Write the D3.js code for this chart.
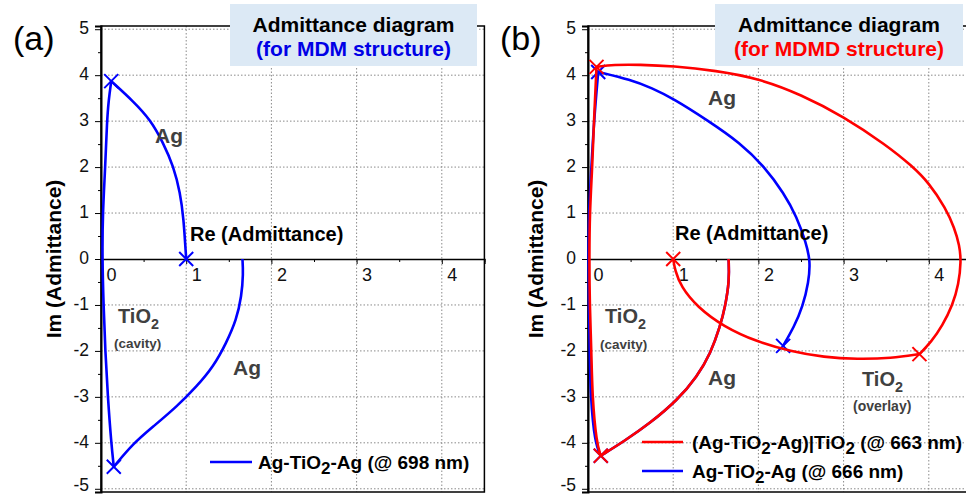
<!DOCTYPE html>
<html>
<head>
<meta charset="utf-8">
<script src="https://cdn.jsdelivr.net/npm/d3@7"></script>
<style>
  body { margin: 0; background: #fff; }
  text { font-family: 'Liberation Sans', Arial, sans-serif; }
</style>
</head>
<body>
<script>
const w = 966;
const h = 494;

// tick values
const xTicks = [0, 1, 2, 3, 4];
const yTicks = [-5, -4, -3, -2, -1, 0, 1, 2, 3, 4, 5];
const xMinor = [0.5, 1.5, 2.5, 3.5, 4.5];
const yMinor = [-4.5, -3.5, -2.5, -1.5, -0.5, 0.5, 1.5, 2.5, 3.5, 4.5];

// (a) MDM @ 698 nm  -- [Re, Im]
const aAgBottom = [[1.66, 0], [1.67, -0.31], [1.65, -0.81], [1.59, -1.32], [1.47, -1.83], [1.32, -2.34],
  [1.12, -2.78], [0.89, -3.21], [0.61, -3.65], [0.38, -4.01], [0.15, -4.52]];
const aTiO2 = [[0.15, -4.52], [0.12, -4], [0.08, -3], [0.05, -2], [0.03, -1], [0.015, 0],
  [0.02, 1], [0.05, 2], [0.07, 3], [0.09, 3.46], [0.12, 3.87]];
const aAgTop = [[0.12, 3.87], [0.38, 3.43], [0.58, 3.03], [0.73, 2.53], [0.85, 2.02], [0.93, 1.44],
  [0.97, 0.86], [0.99, 0.27], [1.0, 0]];
const aMarks = [[1.0, 0], [0.15, -4.52], [0.12, 3.87]];

// (b) MDMD @ 663 nm (red) and MDM @ 666 nm (blue)
const bAgBottom = [[1.65, 0], [1.66, -0.46], [1.61, -1.04], [1.55, -1.47], [1.44, -2.05], [1.28, -2.56],
  [1.05, -3.07], [0.73, -3.57], [0.42, -3.97], [0.15, -4.28]];
const redTiO2 = [[0.15, -4.28], [0.1, -4], [0.05, -3], [0.04, -2], [0.02, -1], [0.015, 0],
  [0.02, 1], [0.05, 2], [0.07, 3], [0.1, 4.18]];
const redAgTop = [[0.1, 4.18], [0.3, 4.23], [0.6, 4.23], [1.0, 4.2], [1.5, 4.1], [2.0, 3.93],
  [2.5, 3.58], [3.0, 3.1], [3.5, 2.48], [3.8, 2.03], [4.0, 1.66], [4.2, 1.1], [4.3, 0.68],
  [4.36, 0.3], [4.38, -0.05], [4.35, -0.55], [4.28, -1.0], [4.16, -1.45], [4.03, -1.8], [3.89, -2.07]];
const redOverlay = [[3.89, -2.07], [3.56, -2.16], [3.16, -2.18], [2.77, -2.14], [2.38, -2.01],
  [1.98, -1.8], [1.59, -1.47], [1.28, -1.04], [1.09, -0.6], [1.02, -0.24], [1.0, 0]];
const redMarks = [[0.15, -4.28], [0.1, 4.18], [3.89, -2.07], [1.0, 0]];
const blueTiO2 = [[0.15, -4.28], [0.08, -4], [0.03, -3], [0.02, -2], [0.01, -1], [0.005, 0],
  [0.01, 1], [0.04, 2], [0.07, 3], [0.12, 4.07]];
const blueAgTop = [[0.12, 4.07], [0.5, 3.9], [0.75, 3.72], [1.0, 3.49], [1.4, 3.02], [1.79, 2.52],
  [2.07, 2.01], [2.3, 1.43], [2.45, 0.92], [2.56, 0.35], [2.61, -0.05], [2.59, -0.5], [2.52, -1.04],
  [2.42, -1.47], [2.29, -1.89]];
const blueMarks = [[0.15, -4.28], [0.12, 4.07], [2.29, -1.89]];

const blue = '#0000ff';
const red = '#ff0000';
const gray = '#404040';

const svg = d3.select('body')
  .append('svg')
  .attr('width', w)
  .attr('height', h);

function panel(x0, opt) {
  const x = d3.scaleLinear().domain([0, 4.5]).range([x0, x0 + 383.4]);
  const y = d3.scaleLinear().domain([-5.07, 5.07]).range([492, 26]);
  const g = svg.append('g');

  // grid
  g.selectAll('.hgrid')
    .data(yTicks.filter(d => d !== 0))
    .enter().append('line')
    .attr('x1', x(0)).attr('x2', x(4.5))
    .attr('y1', d => y(d)).attr('y2', d => y(d))
    .attr('stroke', '#8a8a8a').attr('stroke-width', 1).attr('stroke-dasharray', '1.5,2');
  g.selectAll('.vgrid')
    .data(xTicks.filter(d => d !== 0))
    .enter().append('line')
    .attr('x1', d => x(d)).attr('x2', d => x(d))
    .attr('y1', y(5.07)).attr('y2', y(-5.07))
    .attr('stroke', '#8a8a8a').attr('stroke-width', 1).attr('stroke-dasharray', '1.5,2');

  // frame
  g.append('rect')
    .attr('x', x(0)).attr('y', y(5.07))
    .attr('width', x(4.5) - x(0)).attr('height', y(-5.07) - y(5.07))
    .attr('fill', 'none').attr('stroke', '#000').attr('stroke-width', 1.5);

  // y axis
  const yAxis = g.append('g')
    .attr('transform', 'translate(' + x(0) + ',0)')
    .call(d3.axisLeft(y).tickValues(yTicks).tickSize(6).tickPadding(6).tickFormat(d => String(d)));
  yAxis.select('.domain').attr('stroke-width', 2);
  yAxis.selectAll('text').attr('font-size', 17.5).attr('fill', '#111')
    .attr('dy', d => d === -5 ? '0.07em' : '0.26em')
    .style('font-family', "'Liberation Sans', Arial, sans-serif");
  g.append('g')
    .attr('transform', 'translate(' + x(0) + ',0)')
    .call(d3.axisLeft(y).tickValues(yMinor).tickSize(3).tickFormat(''))
    .select('.domain').remove();

  // x axis along Im = 0
  const xAxis = g.append('g')
    .attr('transform', 'translate(0,' + y(0) + ')')
    .call(d3.axisBottom(x).tickValues(xTicks).tickSize(5).tickPadding(4).tickFormat(d => String(d)));
  xAxis.select('.domain').attr('stroke-width', 1.5);
  xAxis.selectAll('text').attr('font-size', 18).attr('fill', '#111').attr('dx', 10)
    .style('font-family', "'Liberation Sans', Arial, sans-serif");
  g.append('g')
    .attr('transform', 'translate(0,' + y(0) + ')')
    .call(d3.axisBottom(x).tickValues(xMinor).tickSize(3).tickFormat(''))
    .select('.domain').remove();

  // y title
  svg.append('text')
    .attr('transform', 'translate(' + opt.yTitleX + ',' + y(0) + ') rotate(-90)')
    .attr('text-anchor', 'middle')
    .attr('font-size', 21).attr('font-weight', 'bold')
    .text('Im (Admittance)');

  // panel letter
  svg.append('text')
    .attr('x', x0 - 88).attr('y', 50)
    .attr('font-size', 34)
    .text(opt.letter);

  return { x, y, g };
}

function curve(p, pts, color) {
  const line = d3.line()
    .x(d => p.x(d[0]))
    .y(d => p.y(d[1]))
    .curve(d3.curveBasis);
  p.g.append('path')
    .attr('d', line(pts))
    .attr('fill', 'none')
    .attr('stroke', color)
    .attr('stroke-width', 2.6)
    .attr('stroke-linejoin', 'round');
}

function marks(p, pts, color) {
  const s = 7;
  p.g.selectAll(null)
    .data(pts)
    .enter().append('path')
    .attr('d', d => {
      const cx = p.x(d[0]), cy = p.y(d[1]);
      return 'M' + (cx - s) + ',' + (cy - s) + 'L' + (cx + s) + ',' + (cy + s) +
        'M' + (cx - s) + ',' + (cy + s) + 'L' + (cx + s) + ',' + (cy - s);
    })
    .attr('stroke', color)
    .attr('stroke-width', 2);
}

function label(x, y, str, size, color, sub) {
  const t = svg.append('text')
    .attr('x', x).attr('y', y)
    .attr('font-size', size).attr('font-weight', 'bold')
    .attr('fill', color);
  t.append('tspan').text(str);
  if (sub) {
    t.append('tspan').attr('dy', size * 0.28).attr('font-size', size * 0.72).text(sub);
  }
  return t;
}

function titleBox(x, w2, line2, color) {
  svg.append('rect')
    .attr('x', x).attr('y', 4)
    .attr('width', w2).attr('height', 62)
    .attr('fill', '#dce9f5');
  svg.append('text')
    .attr('x', x + w2 / 2).attr('y', 32)
    .attr('text-anchor', 'middle')
    .attr('font-size', 21).attr('font-weight', 'bold')
    .attr('fill', '#000')
    .text('Admittance diagram');
  svg.append('text')
    .attr('x', x + w2 / 2).attr('y', 56)
    .attr('text-anchor', 'middle')
    .attr('font-size', 21).attr('font-weight', 'bold')
    .attr('fill', color)
    .text(line2);
}

function legendText(x, y, parts) {
  const t = svg.append('text')
    .attr('x', x).attr('y', y)
    .attr('font-size', 19).attr('font-weight', 'bold').attr('fill', '#000');
  parts.forEach(p => {
    if (p.sub) {
      t.append('tspan').attr('dy', 5).attr('font-size', 17).text(p.sub);
    } else {
      t.append('tspan').attr('dy', p.up ? -5 : 0).text(p.t);
    }
  });
}

// ---- panel (a)
const pa = panel(101, { letter: '(a)', yTitleX: 61 });
curve(pa, aAgBottom, blue);
curve(pa, aTiO2, blue);
curve(pa, aAgTop, blue);
marks(pa, aMarks, blue);

// ---- panel (b)
const pb = panel(588, { letter: '(b)', yTitleX: 543 });
curve(pb, bAgBottom, blue);
curve(pb, blueTiO2, blue);
curve(pb, blueAgTop, blue);
marks(pb, blueMarks, blue);
curve(pb, bAgBottom, red);
curve(pb, redTiO2, red);
curve(pb, redAgTop, red);
curve(pb, redOverlay, red);
marks(pb, redMarks, red);

// title boxes
titleBox(230, 247, '(for MDM structure)', '#0000e6');
titleBox(715, 248, '(for MDMD structure)', '#ff0000');

// annotations (a)
label(155, 143, 'Ag', 21, gray);
label(190, 241, 'Re (Admittance)', 20, '#000');
label(118, 323, 'TiO', 20, gray, '2');
label(114, 348, '(cavity)', 13.5, gray);
label(233, 375, 'Ag', 21, gray);

// annotations (b)
label(708, 105, 'Ag', 21, gray);
label(675, 240, 'Re (Admittance)', 20, '#000');
label(605, 323, 'TiO', 20, gray, '2');
label(600, 349, '(cavity)', 13.5, gray);
label(708, 385, 'Ag', 21, gray);
label(862, 386, 'TiO', 20, gray, '2');
label(853, 411, '(overlay)', 14, gray);

// legends
svg.append('line').attr('x1', 210).attr('x2', 252).attr('y1', 462).attr('y2', 462)
  .attr('stroke', blue).attr('stroke-width', 2.6);
legendText(258, 469, [{ t: 'Ag-TiO' }, { sub: '2' }, { t: '-Ag (@ 698 nm)', up: true }]);

svg.append('line').attr('x1', 642).attr('x2', 683).attr('y1', 442).attr('y2', 442)
  .attr('stroke', red).attr('stroke-width', 2.6);
legendText(692, 449, [{ t: '(Ag-TiO' }, { sub: '2' }, { t: '-Ag)|TiO', up: true }, { sub: '2' }, { t: ' (@ 663 nm)', up: true }]);

svg.append('line').attr('x1', 642).attr('x2', 683).attr('y1', 471).attr('y2', 471)
  .attr('stroke', blue).attr('stroke-width', 2.6);
legendText(692, 478, [{ t: 'Ag-TiO' }, { sub: '2' }, { t: '-Ag (@ 666 nm)', up: true }]);
</script>
</body>
</html>
